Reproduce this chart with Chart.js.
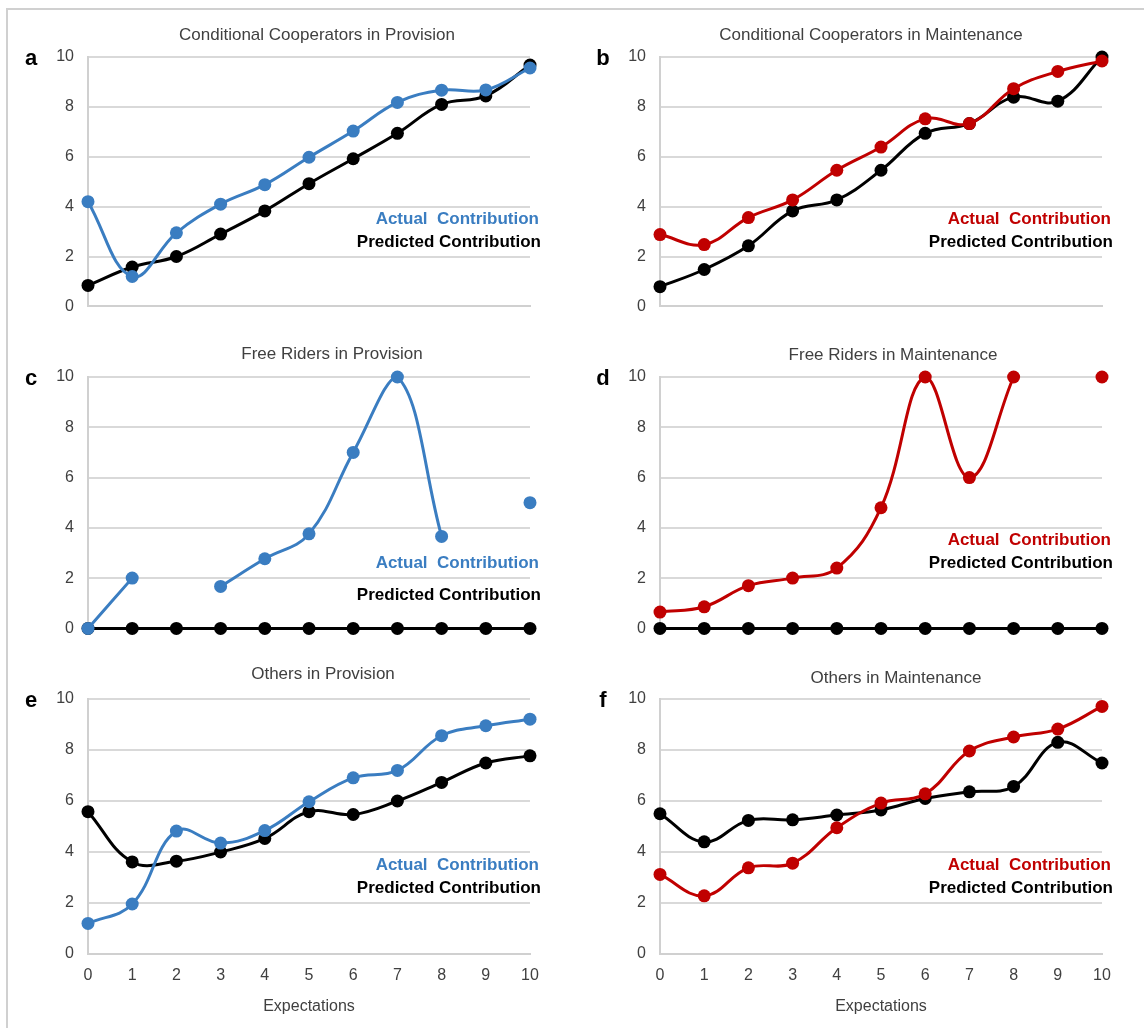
<!DOCTYPE html>
<html>
<head>
<meta charset="utf-8">
<script src="https://cdn.jsdelivr.net/npm/chart.js@4.4.1/dist/chart.umd.min.js"></script>
<style>
  body { margin: 0; background: #fff; }
  #fig { position: relative; width: 1144px; height: 1028px; overflow: hidden; background: #fff; }
  #frame { position: absolute; left: 6px; top: 8px; right: -10px; bottom: -10px;
           border-left: 2px solid #d0d0d0; border-top: 2px solid #d0d0d0; }
  .panel { position: absolute; width: 572px; }
</style>
</head>
<body>
<div id="fig">
  <div id="frame"></div>
  <div class="panel" style="left:0;top:0;height:330px"><canvas id="pa"></canvas></div>
  <div class="panel" style="left:572px;top:0;height:330px"><canvas id="pb"></canvas></div>
  <div class="panel" style="left:0;top:330px;height:322px"><canvas id="pc"></canvas></div>
  <div class="panel" style="left:572px;top:330px;height:322px"><canvas id="pd"></canvas></div>
  <div class="panel" style="left:0;top:652px;height:376px"><canvas id="pe"></canvas></div>
  <div class="panel" style="left:572px;top:652px;height:376px"><canvas id="pf"></canvas></div>
</div>
<script>
// x categories and y ticks
const expectations = ['0', '1', '2', '3', '4', '5', '6', '7', '8', '9', '10'];
const yTickValues = [0, 2, 4, 6, 8, 10];

// a - conditional cooperators, provision
const ccProvisionActual = [4.2, 1.2, 2.95, 4.1, 4.88, 5.98, 7.03, 8.18, 8.67, 8.68, 9.56];
const ccProvisionPredicted = [0.84, 1.58, 2.0, 2.9, 3.83, 4.92, 5.92, 6.94, 8.1, 8.44, 9.68];
// b - conditional cooperators, maintenance
const ccMaintenanceActual = [2.88, 2.48, 3.56, 4.27, 5.46, 6.39, 7.52, 7.33, 8.73, 9.42, 9.84];
const ccMaintenancePredicted = [0.79, 1.48, 2.43, 3.83, 4.27, 5.46, 6.94, 7.33, 8.39, 8.23, 10.0];
// c - free riders, provision (gaps where no data)
const frProvisionActual = [0, 2.0, null, 1.67, 2.77, 3.76, 7.0, 10.0, 3.66, null, 5.0];
const frProvisionPredicted = [0, 0, 0, 0, 0, 0, 0, 0, 0, 0, 0];
// d - free riders, maintenance
const frMaintenanceActual = [0.65, 0.86, 1.7, 2.0, 2.4, 4.8, 10.0, 6.0, 10.0, null, 10.0];
const frMaintenancePredicted = [0, 0, 0, 0, 0, 0, 0, 0, 0, 0, 0];
// e - others, provision
const othersProvisionActual = [1.2, 1.96, 4.82, 4.35, 4.84, 5.97, 6.91, 7.2, 8.56, 8.95, 9.21];
const othersProvisionPredicted = [5.58, 3.61, 3.64, 4.0, 4.53, 5.58, 5.47, 6.0, 6.73, 7.49, 7.77];
// f - others, maintenance
const othersMaintenanceActual = [3.12, 2.28, 3.38, 3.56, 4.95, 5.92, 6.28, 7.96, 8.51, 8.82, 9.71];
const othersMaintenancePredicted = [5.5, 4.4, 5.24, 5.26, 5.45, 5.65, 6.1, 6.36, 6.57, 8.3, 7.49];

const FONT = "'Liberation Sans', Arial, sans-serif";
const BLUE = '#3a7dc1';
const RED = '#c00000';

// draws panel title, letter and the two coloured labels
const panelText = {
    id: 'panelText',
    afterDraw(chart, args, o) {
        const { ctx, chartArea: a } = chart;
        const y = chart.scales.y;
        ctx.save();
        ctx.textBaseline = 'middle';
        ctx.textAlign = 'center';
        ctx.fillStyle = '#404040';
        ctx.font = '17px ' + FONT;
        ctx.fillText(o.title, (a.left + a.right) / 2 + o.titleDx, a.top - o.titleDy);
        ctx.fillStyle = '#000';
        ctx.font = 'bold 22px ' + FONT;
        ctx.fillText(o.letter, a.left - 57, a.top + 2);
        ctx.textAlign = 'right';
        ctx.font = 'bold 17px ' + FONT;
        ctx.fillStyle = o.color;
        ctx.fillText('Actual  Contribution', a.right + 9, y.getPixelForValue(o.actualAt));
        ctx.fillStyle = '#000';
        ctx.fillText('Predicted Contribution', a.right + 11, y.getPixelForValue(o.predictedAt));
        ctx.restore();
    }
};

function makePanel(id, p) {
    const bottomRow = !!p.showX;
    new Chart(document.getElementById(id), {
        type: 'line',
        data: {
            labels: expectations,
            datasets: [
                {
                    label: 'Actual Contribution',
                    data: p.actual,
                    borderColor: p.color,
                    backgroundColor: p.color,
                    borderWidth: 3,
                    pointRadius: 6.5,
                    pointBorderWidth: 0,
                    tension: 0.4,
                    spanGaps: false,
                    clip: false
                },
                {
                    label: 'Predicted Contribution',
                    data: p.predicted,
                    borderColor: '#000',
                    backgroundColor: '#000',
                    borderWidth: 3,
                    pointRadius: 6.5,
                    pointBorderWidth: 0,
                    tension: 0.4,
                    clip: false
                }
            ]
        },
        options: {
            responsive: true,
            maintainAspectRatio: false,
            animation: false,
            events: [],
            layout: { padding: { left: 0, right: 42, top: p.padTop, bottom: bottomRow ? 12 : 20 } },
            plugins: {
                legend: { display: false },
                tooltip: { enabled: false },
                panelText: p
            },
            scales: {
                x: {
                    grid: { display: false },
                    border: { display: true, color: '#d0d0d0', width: 2 },
                    ticks: {
                        display: bottomRow,
                        color: '#404040',
                        padding: 4,
                        font: { family: FONT, size: 16 },
                        maxRotation: 0,
                        autoSkip: false
                    },
                    title: {
                        display: bottomRow,
                        text: 'Expectations',
                        color: '#404040',
                        font: { family: FONT, size: 16 },
                        padding: { top: 0, bottom: 0 }
                    },
                    afterFit: s => { s.height = bottomRow ? 62 : 0; }
                },
                y: {
                    min: 0,
                    max: 10,
                    afterBuildTicks: s => { s.ticks = yTickValues.map(v => ({ value: v })); },
                    grid: { color: '#d9d9d9', lineWidth: 2, drawTicks: false },
                    border: { display: true, color: '#d0d0d0', width: 2 },
                    ticks: {
                        color: '#404040',
                        padding: 14,
                        font: { family: FONT, size: 16 }
                    },
                    afterFit: s => { s.width = 88; }
                }
            }
        },
        plugins: [panelText]
    });
}

makePanel('pa', { title: 'Conditional Cooperators in Provision', letter: 'a', color: BLUE,
    actual: ccProvisionActual, predicted: ccProvisionPredicted,
    padTop: 57, titleDx: 8, titleDy: 22, actualAt: 3.5, predictedAt: 2.55 });
makePanel('pb', { title: 'Conditional Cooperators in Maintenance', letter: 'b', color: RED,
    actual: ccMaintenanceActual, predicted: ccMaintenancePredicted,
    padTop: 57, titleDx: -10, titleDy: 22, actualAt: 3.5, predictedAt: 2.55 });
makePanel('pc', { title: 'Free Riders in Provision', letter: 'c', color: BLUE,
    actual: frProvisionActual, predicted: frProvisionPredicted,
    padTop: 47, titleDx: 23, titleDy: 23, actualAt: 2.6, predictedAt: 1.3 });
makePanel('pd', { title: 'Free Riders in Maintenance', letter: 'd', color: RED,
    actual: frMaintenanceActual, predicted: frMaintenancePredicted,
    padTop: 47, titleDx: 12, titleDy: 22, actualAt: 3.5, predictedAt: 2.6 });
makePanel('pe', { title: 'Others in Provision', letter: 'e', color: BLUE,
    actual: othersProvisionActual, predicted: othersProvisionPredicted,
    padTop: 47, titleDx: 14, titleDy: 25, actualAt: 3.48, predictedAt: 2.58, showX: true });
makePanel('pf', { title: 'Others in Maintenance', letter: 'f', color: RED,
    actual: othersMaintenanceActual, predicted: othersMaintenancePredicted,
    padTop: 47, titleDx: 15, titleDy: 21, actualAt: 3.48, predictedAt: 2.58, showX: true });
</script>
</body>
</html>
